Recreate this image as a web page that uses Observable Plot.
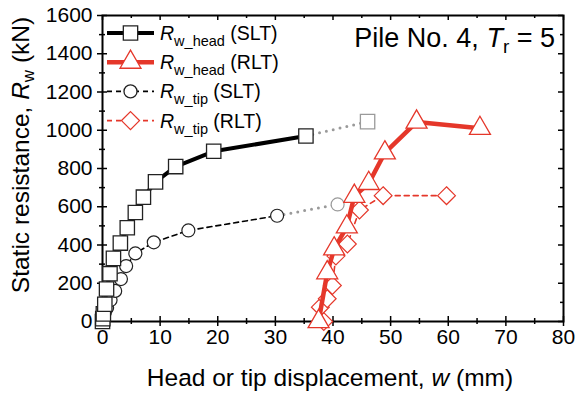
<!DOCTYPE html>
<html><head><meta charset="utf-8">
<script src="https://cdn.jsdelivr.net/npm/d3@7"></script>
<script src="https://cdn.jsdelivr.net/npm/@observablehq/plot@0.6"></script>
<style>body{margin:0;background:#fff;} #chart{width:576px;height:393px;}</style>
</head><body><div id="chart"></div>
<script>
// ---- data ----
const sltHeadW = [0, 0.05, 0.15, 0.4, 0.7, 1.3, 1.9, 3.1, 4.3, 5.7, 7.1, 9.2, 12.7, 19.3, 35.3];
const sltHeadR = [0, 15, 40, 90, 170, 250, 330, 410, 490, 570, 650, 730, 810, 890, 970];
const sltHeadExtW = [35.3, 46];
const sltHeadExtR = [970, 1045];

const sltTipW = [0, 0.05, 0.2, 0.4, 0.8, 1.4, 2.2, 3.2, 4.1, 5.7, 8.9, 14.9, 30.3];
const sltTipR = [0, 8, 20, 46, 72, 112, 160, 222, 290, 356, 414, 476, 553];
const sltTipExtW = [30.3, 40.8];
const sltTipExtR = [553, 612];

const rltHeadW = [37.5, 39, 40.2, 42.4, 43.7, 46.2, 49, 54.5, 65.5];
const rltHeadR = [0, 255, 380, 495, 655, 722, 882, 1043, 1010];

const rltTipW = [38.4, 37.8, 39, 39.9, 40.5, 42.5, 44.6, 48.7, 59.7];
const rltTipR = [0, 75, 119, 188, 342, 405, 583, 658, 658];

const xMajor = [0, 10, 20, 30, 40, 50, 60, 70, 80];
const xMinor = [5, 15, 25, 35, 45, 55, 65, 75];
const yMajor = [0, 200, 400, 600, 800, 1000, 1200, 1400, 1600];
const yMinor = [100, 300, 500, 700, 900, 1100, 1300, 1500];

const legendLabels = [
  {sub: "w_head", tail: " (SLT)"},
  {sub: "w_head", tail: " (RLT)"},
  {sub: "w_tip", tail: " (SLT)"},
  {sub: "w_tip", tail: " (RLT)"}
];

// ---- build ----
const zip = (a, b) => a.map((v, i) => ({w: v, R: b[i]}));
const sH = zip(sltHeadW, sltHeadR), sHx = zip(sltHeadExtW, sltHeadExtR);
const sT = zip(sltTipW, sltTipR), sTx = zip(sltTipExtW, sltTipExtR);
const rH = zip(rltHeadW, rltHeadR), rT = zip(rltTipW, rltTipR);

const RED = "#e5372a", GRAY = "#9a9a9a";
const W = 576, H = 393, mL = 102, mR = 13, mT = 15, mB = 72;
const ih = H - mT - mB, iw = W - mL - mR;
const FONT = "Arial, 'Liberation Sans', sans-serif";

const plot = Plot.plot({
  width: W, height: H,
  marginLeft: mL, marginRight: mR, marginTop: mT, marginBottom: mB,
  style: {fontFamily: FONT, color: "black", background: "white"},
  x: {domain: [0, 80]},
  y: {domain: [0, 1600]},
  marks: [
    // ticks: bottom/left cross the axis, top/right point inward
    Plot.ruleX(xMajor, {x: d => d, insetTop: ih - 5, insetBottom: -5, stroke: "black", strokeWidth: 1.5}),
    Plot.ruleX(xMinor, {x: d => d, insetTop: ih - 3, insetBottom: -3, stroke: "black", strokeWidth: 1.5}),
    Plot.ruleX(xMajor, {x: d => d, insetBottom: ih - 5, stroke: "black", strokeWidth: 1.5}),
    Plot.ruleX(xMinor, {x: d => d, insetBottom: ih - 3, stroke: "black", strokeWidth: 1.5}),
    Plot.ruleY(yMajor, {y: d => d, insetRight: iw - 5, insetLeft: -5, stroke: "black", strokeWidth: 1.5}),
    Plot.ruleY(yMinor, {y: d => d, insetRight: iw - 3, insetLeft: -3, stroke: "black", strokeWidth: 1.5}),
    Plot.ruleY(yMajor, {y: d => d, insetLeft: iw - 5, stroke: "black", strokeWidth: 1.5}),
    Plot.ruleY(yMinor, {y: d => d, insetLeft: iw - 3, stroke: "black", strokeWidth: 1.5}),
    Plot.frame({stroke: "black", strokeWidth: 2}),
    Plot.axisX(xMajor, {tickSize: 0, tickPadding: 8, fontSize: 21, label: null, tickFormat: d => String(d)}),
    Plot.axisY(yMajor, {tickSize: 0, tickPadding: 10, fontSize: 21, label: null, tickFormat: d => String(d)}),

    // SLT tip
    Plot.line(sTx, {x: "w", y: "R", stroke: GRAY, strokeWidth: 3, strokeDasharray: "0,7", strokeLinecap: "round"}),
    Plot.dot(sTx.slice(1), {x: "w", y: "R", r: 6.5, stroke: GRAY, fill: "white", strokeWidth: 1.2}),
    Plot.line(sT, {x: "w", y: "R", stroke: "black", strokeWidth: 1.6, strokeDasharray: "5,4"}),
    Plot.dot(sT, {x: "w", y: "R", r: 6.5, stroke: "#222", fill: "white", strokeWidth: 1.2}),
    // SLT head
    Plot.line(sHx, {x: "w", y: "R", stroke: GRAY, strokeWidth: 3, strokeDasharray: "0,7", strokeLinecap: "round"}),
    Plot.dot(sHx.slice(1), {x: "w", y: "R", r: 8.1, symbol: "square", stroke: GRAY, fill: "white", strokeWidth: 1.3}),
    Plot.line(sH, {x: "w", y: "R", stroke: "black", strokeWidth: 4}),
    Plot.dot(sH, {x: "w", y: "R", r: 8.1, symbol: "square", stroke: "#222", fill: "white", strokeWidth: 1.3}),
    // RLT tip
    Plot.line(rT, {x: "w", y: "R", stroke: RED, strokeWidth: 1.6, strokeDasharray: "5,4"}),
    Plot.dot(rT, {x: "w", y: "R", r: 8, symbol: "diamond2", stroke: RED, fill: "white", strokeWidth: 1.2}),
    // RLT head
    Plot.line(rH, {x: "w", y: "R", stroke: RED, strokeWidth: 4.5}),
    Plot.dot(rH, {x: "w", y: "R", r: 7.8, symbol: "triangle", stroke: RED, fill: "white", strokeWidth: 1.3})
  ]
});
document.getElementById("chart").appendChild(plot);

// ---- overlay texts & legend ----
const svg = d3.select(plot);
const g = svg.append("g").attr("font-family", FONT).attr("fill", "black").attr("text-anchor", "start");

// x title
const xt = g.append("text").attr("x", 330).attr("y", 386).attr("text-anchor", "middle").attr("font-size", 24.5);
xt.append("tspan").text("Head or tip displacement, ");
xt.append("tspan").attr("font-style", "italic").text("w");
xt.append("tspan").text(" (mm)");

// y title
const yt = g.append("text").attr("transform", "translate(29,155) rotate(-90)").attr("text-anchor", "middle").attr("font-size", 24.5);
yt.append("tspan").text("Static resistance, ");
yt.append("tspan").attr("font-style", "italic").text("R");
yt.append("tspan").attr("font-size", 17).attr("dy", 5).text("w");
yt.append("tspan").attr("dy", -5).text(" (kN)");

// panel title
const tt = g.append("text").attr("x", 555).attr("y", 47).attr("text-anchor", "end").attr("font-size", 27);
tt.append("tspan").text("Pile No. 4, ");
tt.append("tspan").attr("font-style", "italic").text("T");
tt.append("tspan").attr("font-size", 19).attr("dy", 6).text("r");
tt.append("tspan").attr("dy", -6).text(" = 5");

// legend
const legStyles = [
  {stroke: "black", width: 4, dash: null, sym: d3.symbolSquare, size: 206, mstroke: "#222"},
  {stroke: RED, width: 4.5, dash: null, sym: d3.symbolTriangle, size: 191, mstroke: RED},
  {stroke: "black", width: 1.6, dash: "5,4", sym: d3.symbolCircle, size: Math.PI * 6.5 * 6.5, mstroke: "#222"},
  {stroke: RED, width: 1.6, dash: "5,4", sym: d3.symbolDiamond2, size: 206, mstroke: RED}
];
legendLabels.forEach((lab, i) => {
  const cy = 33 + i * 29.2;
  const s = legStyles[i];
  const row = g.append("g");
  row.append("line").attr("x1", 107).attr("x2", 154).attr("y1", cy).attr("y2", cy)
    .attr("stroke", s.stroke).attr("stroke-width", s.width).attr("stroke-dasharray", s.dash);
  row.append("path").attr("d", d3.symbol(s.sym, s.size)()).attr("transform", `translate(130.5,${cy})`)
    .attr("fill", "white").attr("stroke", s.mstroke).attr("stroke-width", 1.3);
  const t = row.append("text").attr("x", 160).attr("y", cy + 7).attr("font-size", 19.5);
  t.append("tspan").attr("font-style", "italic").text("R");
  t.append("tspan").attr("font-size", 14.5).attr("dy", 6).text(lab.sub);
  t.append("tspan").attr("dy", -6).text(lab.tail);
});
</script>
</body></html>
